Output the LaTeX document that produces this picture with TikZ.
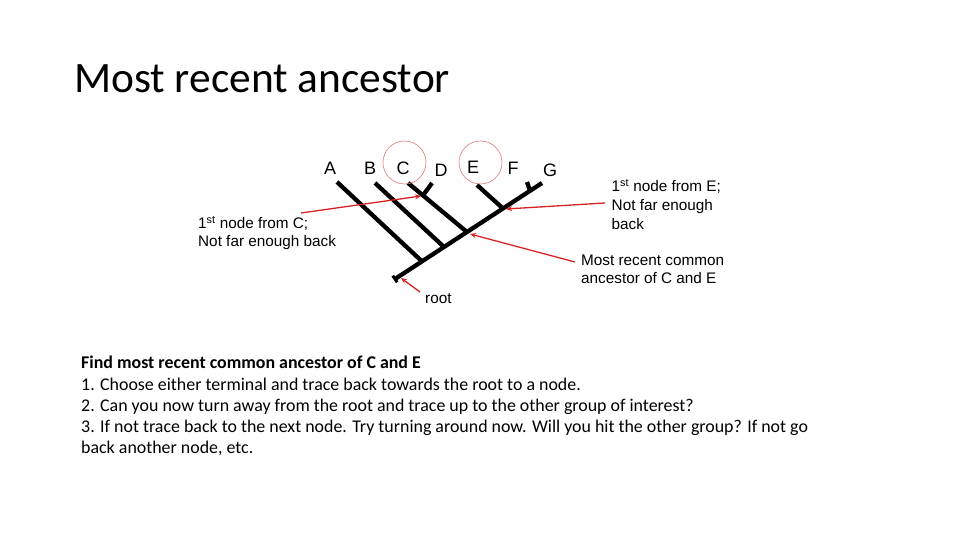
\documentclass[tikz,border=0pt]{standalone}
\usepackage{fontspec}
\setmainfont{Carlito}
\newfontfamily\diagfont{Liberation Sans}
\usetikzlibrary{arrows.meta}
\definecolor{arrred}{RGB}{215,35,35}
\definecolor{circred}{RGB}{225,120,120}
\tikzset{
  branch/.style={line width=4.3pt, black},
  redarrow/.style={draw=arrred, line width=1.3pt, -{Stealth[length=6pt,width=5pt]}},
  ring/.style={draw=circred, line width=0.6pt},
  leaf/.style={font=\diagfont\fontsize{18}{18}\selectfont, inner sep=0pt},
  lbl/.style={font=\diagfont\fontsize{15.3}{15.3}\selectfont, inner sep=0pt, anchor=base west},
  body/.style={font=\fontsize{17.9}{17.9}\selectfont, inner sep=0pt, anchor=base west},
}
\begin{document}
\begin{tikzpicture}[x=1pt,y=-1pt]
\useasboundingbox (0,0) rectangle (960,540);
% title
\node[inner sep=0pt, anchor=base west, font=\fontsize{43.4}{43.4}\selectfont] (title) at (74,93) {Most recent ancestor};
% tree coordinates
\coordinate (R) at (395,279);
\coordinate (G) at (542,183);
\coordinate (jA) at (422,261.4);
\coordinate (jB) at (444,247);
\coordinate (jC) at (467,232);
\coordinate (jE) at (503,208.5);
\coordinate (jF) at (530,190.8);
\coordinate (tA) at (337,182);
\coordinate (tB) at (375,183);
\coordinate (tC) at (408,183);
\coordinate (tD) at (432,183);
\coordinate (jD) at (423,195.5);
\coordinate (tE) at (477,185);
\coordinate (tF) at (527,182);
\coordinate (r1) at (392.8,275.7);
\coordinate (r2) at (397.2,282.3);
% branches
\draw[branch] (R) -- (G);
\draw[branch] (tA) -- (jA);
\draw[branch] (tB) -- (jB);
\draw[branch] (tC) -- (jC);
\draw[branch] (tD) -- (jD);
\draw[branch] (tE) -- (jE);
\draw[branch] (tF) -- (jF);
\draw[line width=3pt] (r1) -- (r2);
% leaf labels
\node[leaf] (A) at (330,168) {A};
\node[leaf] (B) at (370,168) {B};
\node[leaf] (C) at (403,168) {C};
\node[leaf] (D) at (441,170) {D};
\node[leaf] (E) at (473,167) {E};
\node[leaf] (F) at (513,168) {F};
\node[leaf] (Gl) at (550,170) {G};
% circles
\node[ring, circle, minimum size=43pt, inner sep=0pt] (cC) at (404.5,162.5) {};
\node[ring, circle, minimum size=43pt, inner sep=0pt] (cE) at (480.5,162.5) {};
% annotations
\node[lbl] (lc1) at (198,228.3) {1\textsuperscript{st} node from C;};
\node[lbl] (lc2) at (198,246) {Not far enough back};
\node[lbl] (le1) at (611.5,191.5) {1\textsuperscript{st} node from E;};
\node[lbl] (le2) at (611.5,210.5) {Not far enough};
\node[lbl] (le3) at (611.5,229.5) {back};
\node[lbl] (lm1) at (581,265) {Most recent common};
\node[lbl] (lm2) at (581,283.5) {ancestor of C and E};
\node[lbl] (lr) at (425,303.3) {root};
% arrow start points
\coordinate (sC) at (301,213);
\coordinate (sE) at (605,203);
\coordinate (sM) at (575,262);
\coordinate (sR) at (420,292);
\coordinate (eC) at (421,196);
\coordinate (eE) at (506,209);
\coordinate (eM) at (470,234);
\coordinate (eR) at (401,278);
\draw[redarrow] (sC) -- (eC);
\draw[redarrow] (sE) -- (eE);
\draw[redarrow] (sM) -- (eM);
\draw[redarrow] (sR) -- (eR);
% body text
\node[body, font=\bfseries\fontsize{17.9}{17.9}\selectfont] (b0) at (81,368.3) {Find most recent common ancestor of C and E};
\node[body] (b1) at (81,390) {1. Choose either terminal and trace back towards the root to a node.};
\node[body] (b2) at (81,411.5) {2. Can you now turn away from the root and trace up to the other group of interest?};
\node[body] (b3) at (81,432.7) {3. If not trace back to the next node. Try turning around now. Will you hit the other group? If not go};
\node[body] (b4) at (81,453.5) {back another node, etc.};
\end{tikzpicture}
\end{document}
